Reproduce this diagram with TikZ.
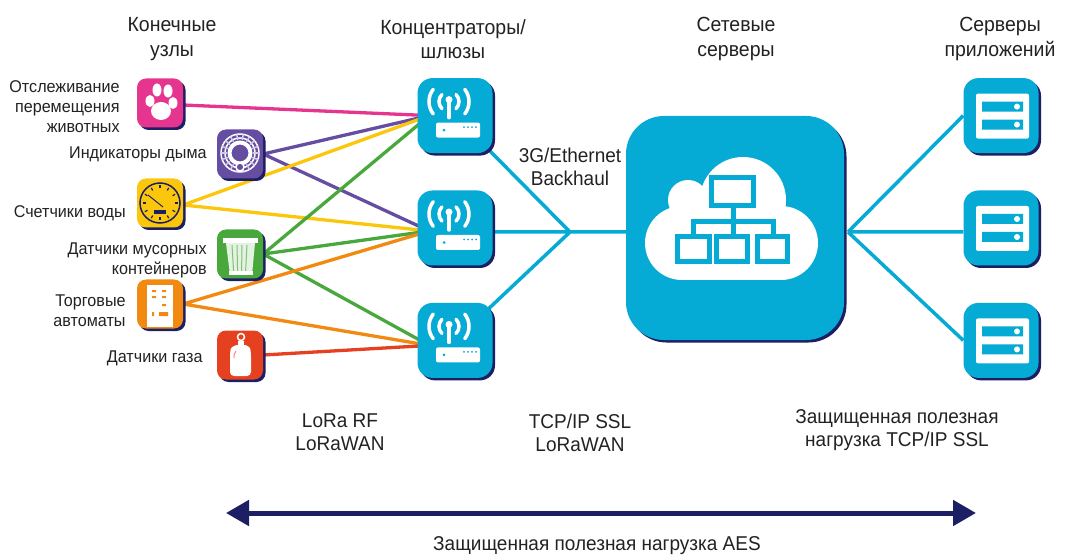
\documentclass[tikz,border=0pt]{standalone}
\usepackage{fontspec}
\setmainfont[FakeStretch=0.95]{Liberation Sans}
\usepackage{tikz}
\usetikzlibrary{positioning,shadows,backgrounds,arrows.meta}
\definecolor{bluec}{HTML}{05AAD5}
\definecolor{navyc}{HTML}{1C1F63}
\definecolor{pinkc}{HTML}{E6358F}
\definecolor{purplec}{HTML}{654DA1}
\definecolor{yellowc}{HTML}{FBC70C}
\definecolor{greenc}{HTML}{49A83C}
\definecolor{orangec}{HTML}{F28A12}
\definecolor{redc}{HTML}{E5401F}
\definecolor{textc}{HTML}{222222}
\tikzset{box node/.style={rounded corners=#1,inner sep=0pt,drop shadow={shadow xshift=2.5pt,shadow yshift=-2.5pt,fill=navyc,opacity=1}},
            end node/.style={box node=9pt,minimum width=46pt,minimum height=49pt,fill=#1},
            gw node/.style={box node=15pt,minimum size=75pt,fill=bluec},
            net node/.style={box node=38pt,minimum width=218pt,minimum height=224pt,fill=bluec},
            label node/.style={font=\fontsize{17}{20}\selectfont,text=textc,align=right,inner sep=0pt},
            head node/.style={font=\fontsize{20.5}{24.5}\selectfont,text=textc,align=center,inner sep=0pt},
            note node/.style={font=\fontsize{20}{23}\selectfont,text=textc,align=center,inner sep=0pt},
            link/.style={line width=3.3pt,#1},
            blue link/.style={line width=3.5pt,bluec},
            pawicon/.pic={
                \fill[white] (1,-8) ellipse (10 and 9);
                \fill[white] (-10,2) ellipse (4.5 and 6);
                \fill[white] (-3,13) ellipse (4.5 and 6.5);
                \fill[white] (8,12) ellipse (4.5 and 6.5);
                \fill[white] (13,0) ellipse (4.5 and 6);
            },
            smokeicon/.pic={
                \draw[white,line width=1.5pt] (0,1) circle (19) (0,1) circle (15);
                \foreach \a in {0,20,...,340}
                    \draw[white!70!purplec,line width=1.5pt] ([shift={(0,1)}]\a:13) -- ([shift={(0,1)}]\a:19);
                \draw[white,line width=4pt] (0,1) circle (10.5);
                \draw[white,line width=1.5pt,fill=purplec] (0,-13) circle (4);
            },
            gaugeicon/.pic={
                \draw[line width=1.5pt,navyc] (0,0) circle (20);
                \foreach \a in {0,30,...,330}
                    \draw[line width=1.2pt,navyc] (\a:14.5) -- (\a:17.5);
                \draw[line width=1pt,navyc] (-12,8) -- (3,-4);
                \fill[navyc] (-6,-11) rectangle (6,-7);
            },
            trashicon/.pic={
                \fill[white!85!greenc] (-14,11) -- (-10,-21) -- (12,-21) -- (15,11) -- cycle;
                \fill[white] (-17,16) rectangle (18,11);
                \foreach \a in {-8,-3,2,7}
                    \draw[greenc!70!white,line width=1pt] (\a,9) -- (\a*0.8,-17);
                \fill[white] (-11,-17) rectangle (13,-21);
            },
            vendicon/.pic={
                \fill[white] (-13,19) rectangle (13,-23);
                \fill[orangec] (-8,14) rectangle (-4,12) (2,14) rectangle (6,12)
                (-8,8) rectangle (-4,6) (2,8) rectangle (6,6) (2,0) rectangle (6,-2)
                (-1,-8) rectangle (8,-12) (-8,-8) rectangle (-6,-12);
            },
            gasicon/.pic={
                \draw[white,line width=1.5pt] (1,18) circle (3.5);
                \fill[white] (-2,14) rectangle (4,8);
                \fill[white,rounded corners=4pt] (-10,-21) -- (-10,2) .. controls (-9,8) and (-4,10) .. (1,10)
                .. controls (6,10) and (10,8) .. (11,2) -- (11,-21) -- cycle;
                \draw[redc!60!white,line width=1pt] (-6,-3) -- (-6,0) -- (-4,4);
            },
            gwicon/.pic={
                \draw[white,line width=3.5pt,line cap=round] (-6,-2) -- (-6,14);
                \fill[white] (-6,16) circle (3.5);
                \draw[white,line width=3.5pt,line cap=round] (-6,14) ++(45:10) arc (45:-45:10);
                \draw[white,line width=3.5pt,line cap=round] (-6,14) ++(135:10) arc (135:225:10);
                \draw[white,line width=3.5pt,line cap=round] (-6,14) ++(38:20) arc (38:-38:20);
                \draw[white,line width=3.5pt,line cap=round] (-6,14) ++(142:20) arc (142:218:20);
                \fill[white,rounded corners=2pt] (-19,-7) rectangle (25,-22);
                \fill[bluec] (-11,-14.5) circle (1.5);
                \foreach \a in {9,13,17,21}
                    \fill[bluec] (\a,-11.5) circle (1);
            },
            srvicon/.pic={
                \fill[white,rounded corners=2pt] (-25,22) rectangle (28,-23);
                \fill[bluec] (-19,14) rectangle (22,4) (-19,-4) rectangle (22,-14);
                \fill[white] (16,9) circle (3) (16,-9) circle (3);
            },
            cloudicon/.pic={
                \fill[white] (8,30) circle (43);
                \fill[white] (-47,30) circle (20);
                \fill[white] (-53,-13) circle (37);
                \fill[white] (46,-13) circle (37);
                \fill[white] (-53,-50) rectangle (46,15);
                \fill[white] (-40,30) rectangle (30,10);
                \draw[bluec,line width=5pt] (-23.5,52.5) rectangle (18.5,24.5);
                \draw[bluec,line width=5pt] (-57.5,-6.5) rectangle (-25.5,-31.5);
                \draw[bluec,line width=5pt] (-18.5,-6.5) rectangle (12.5,-31.5);
                \draw[bluec,line width=5pt] (22.5,-6.5) rectangle (52.5,-31.5);
                \draw[bluec,line width=5pt] (-2,22) -- (-2,-4) (-42,-4) -- (-42,8) -- (38,8) -- (38,-4);
            },
            }
\begin{document}
\begin{tikzpicture}[x=1pt,y=1pt]
    \useasboundingbox (0,0) rectangle (1084,555);
    \node[end node=pinkc] (paw) at (160,452) {};
    \node[end node=purplec] (smoke) at (240,401) {};
    \node[end node=yellowc] (water) at (160,352) {};
    \node[end node=greenc] (trash) at (240,301) {};
    \node[end node=orangec] (vend) at (160,251) {};
    \node[end node=redc] (gas) at (240,200) {};

    \node[gw node] (gw2) at (455,327) {};
    \node[gw node] (gw1) [above =37pt of gw2] {};
    \node[gw node] (gw3) [below =37pt of gw2] {};
    \node[net node] (net) at (735,327) {};
    \node[gw node] (srv2) at (1001,327) {};
    \node[gw node] (srv1) [above =37pt of srv2] {};
    \node[gw node] (srv3) [below =37pt of srv2] {};

    \coordinate (hub1) at ([xshift=12pt]gw1.west);
    \coordinate (hub2) at ([xshift=12pt,yshift=-3pt]gw2.west);
    \coordinate (hub3) at ([xshift=12pt,yshift=-5pt]gw3.west);
    \coordinate (back) at (570,323);
    \coordinate (front) at (848,323);

    \begin{scope}[on background layer]
    \path[draw,link=pinkc] ([yshift=-2pt]paw.east) -- (hub1);
    \path[draw,link=purplec] (smoke.east) -- (hub1) (smoke.east) -- (hub2);
    \path[draw,link=yellowc] ([yshift=-2pt]water.east) -- (hub1) ([yshift=-2pt]water.east) -- (hub2);
    \path[draw,link=greenc] (trash.east) -- (hub1) (trash.east) -- (hub2) (trash.east) -- (hub3);
    \path[draw,link=orangec] (vend.east) -- (hub2) (vend.east) -- (hub3);
    \path[draw,link=redc] (gas.east) -- (hub3);
    \path[draw,blue link]
    (gw1.center) -- (back)
    (gw2.east |- back) -- (back)
    (gw3.center) -- (back)
    (back) -- (net.west |- back)
    (front) -- (srv1.west)
    (front) -- (srv2.west |- front)
    (front) -- (srv3.west)
    ;
    \end{scope}

    \pic at (paw) {pawicon};
    \pic at (smoke) {smokeicon};
    \pic at (water) {gaugeicon};
    \pic at (trash) {trashicon};
    \pic at (vend) {vendicon};
    \pic at (gas) {gasicon};
    \foreach \n in {gw1,gw2,gw3}
        \pic at (\n) {gwicon};
    \foreach \n in {srv1,srv2,srv3}
        \pic at (\n) {srvicon};
    \pic at ([yshift=-2pt]net.center) {cloudicon};

    \node[label node] (pawtext) [left =17pt of paw, yshift=-4pt] {Отслеживание\\перемещения\\животных};
    \node[label node] (smoketext) [left =10pt of smoke] {Индикаторы дыма};
    \node[label node] (watertext) [left =11pt of water, yshift=-10pt] {Счетчики воды};
    \node[label node] (trashtext) [left =10pt of trash, yshift=-6pt] {Датчики мусорных\\контейнеров};
    \node[label node] (vendtext) [left =11pt of vend, yshift=-7pt] {Торговые\\автоматы};
    \node[label node] (gastext) [left =14pt of gas, yshift=-3pt] {Датчики газа};

    \node[head node] (endhead) at (172,516) {Конечные\\узлы};
    \node[head node] (gwhead) at (453,516) {Концентраторы/\\шлюзы};
    \node[head node] (nethead) at (736,516) {Сетевые\\серверы};
    \node[head node] (srvhead) at (1000,516) {Серверы\\приложений};

    \node[note node] (backtext) at (570,388) {3G/Ethernet\\Backhaul};
    \node[note node] (rftext) at (340,123) {LoRa RF\\LoRaWAN};
    \node[note node] (ssltext) at (580,122) {TCP/IP SSL\\LoRaWAN};
    \node[note node] (tcptext) at (897,125) {Защищенная полезная\\нагрузка TCP/IP SSL};

    \coordinate (arrowl) at (226,42);
    \coordinate (arrowr) at (976,42);
    \draw[{Triangle[length=23pt,width=25pt]}-{Triangle[length=23pt,width=25pt]},line width=5pt,navyc] (arrowl) -- (arrowr);
    \node[note node] (aestext) at (597,9) {Защищенная полезная нагрузка AES};
    %%
\end{tikzpicture}
\end{document}
